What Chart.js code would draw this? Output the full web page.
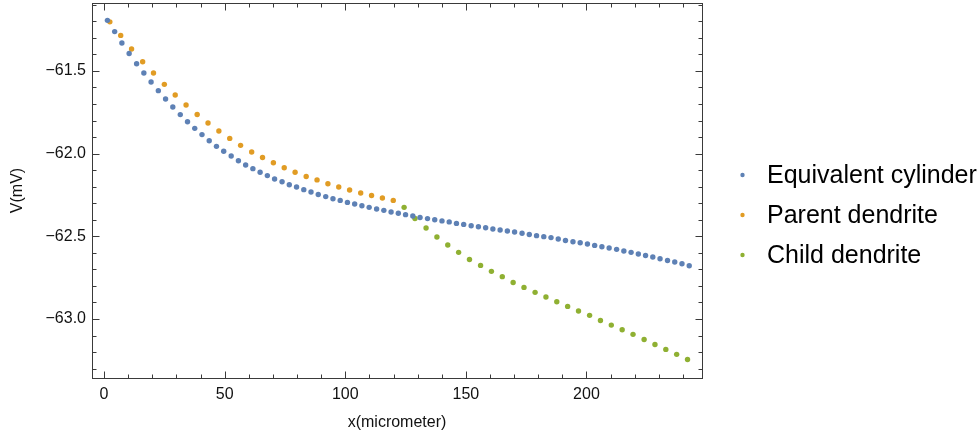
<!DOCTYPE html>
<html>
<head>
<meta charset="utf-8">
<script src="https://cdn.jsdelivr.net/npm/chart.js@4.4.1/dist/chart.umd.min.js"></script>
<style>
  html, body { margin: 0; padding: 0; background: #fff; }
  canvas { display: block; }
</style>
</head>
<body>
<canvas id="chart" width="979" height="439"></canvas>
<script>
// values
const cylinderX = [1.4, 4.4, 7.4, 10.4, 13.5, 16.5, 19.5, 22.5, 25.5, 28.5,
  31.6, 34.6, 37.6, 40.6, 43.6, 46.6, 49.6, 52.7, 55.7, 58.7,
  61.7, 64.7, 67.7, 70.7, 73.8, 76.8, 79.8, 82.8, 85.8, 88.8,
  91.9, 94.9, 97.9, 100.9, 103.9, 106.9, 109.9, 113.0, 116.0, 119.0,
  122.0, 125.0, 128.0, 131.0, 134.1, 137.1, 140.1, 143.1, 146.1, 149.1,
  152.2, 155.2, 158.2, 161.2, 164.2, 167.2, 170.2, 173.3, 176.3, 179.3,
  182.3, 185.3, 188.3, 191.3, 194.4, 197.4, 200.4, 203.4, 206.4, 209.4,
  212.5, 215.5, 218.5, 221.5, 224.5, 227.5, 230.5, 233.6, 236.6, 239.6, 242.6];
const cylinderV = [-61.194, -61.262, -61.331, -61.394, -61.456, -61.512, -61.567, -61.619, -61.670, -61.718,
  -61.764, -61.807, -61.847, -61.885, -61.922, -61.956, -61.986, -62.014, -62.043, -62.069,
  -62.091, -62.113, -62.133, -62.153, -62.170, -62.188, -62.202, -62.218, -62.232, -62.247,
  -62.260, -62.273, -62.283, -62.295, -62.305, -62.315, -62.325, -62.335, -62.343, -62.353,
  -62.361, -62.369, -62.377, -62.386, -62.393, -62.400, -62.407, -62.413, -62.422, -62.428,
  -62.436, -62.442, -62.448, -62.456, -62.462, -62.468, -62.474, -62.482, -62.489, -62.496,
  -62.502, -62.508, -62.516, -62.525, -62.533, -62.539, -62.547, -62.555, -62.563, -62.571,
  -62.579, -62.589, -62.597, -62.607, -62.616, -62.625, -62.636, -62.646, -62.655, -62.666, -62.678];

const parentX = [2.4, 6.9, 11.4, 16.0, 20.5, 25.0, 29.5, 34.0, 38.6, 43.1,
  47.6, 52.1, 56.6, 61.2, 65.7, 70.2, 74.7, 79.2, 83.8, 88.3,
  92.8, 97.3, 101.8, 106.4, 110.9, 115.4, 119.9];
const parentV = [-61.203, -61.285, -61.367, -61.444, -61.512, -61.581, -61.645, -61.706, -61.763, -61.815,
  -61.863, -61.908, -61.950, -61.990, -62.023, -62.055, -62.085, -62.113, -62.138, -62.159,
  -62.182, -62.202, -62.220, -62.238, -62.253, -62.268, -62.283];

const childX = [124.4, 128.9, 133.5, 138.0, 142.5, 147.0, 151.5, 156.1, 160.6, 165.1,
  169.6, 174.1, 178.7, 183.2, 187.7, 192.2, 196.7, 201.3, 205.8, 210.3,
  214.8, 219.3, 223.9, 228.4, 232.9, 237.4, 241.9];
const childV = [-62.325, -62.392, -62.450, -62.504, -62.553, -62.597, -62.640, -62.676, -62.712, -62.744,
  -62.779, -62.809, -62.839, -62.867, -62.896, -62.924, -62.952, -62.978, -63.009, -63.037,
  -63.065, -63.093, -63.124, -63.154, -63.184, -63.214, -63.245];

const xTickValues = [0, 50, 100, 150, 200];
const yTickValues = [-61.5, -62.0, -62.5, -63.0];
const seriesNames = ['Equivalent cylinder', 'Parent dendrite', 'Child dendrite'];
const seriesColors = ['#5e81b5', '#e19c24', '#8fb032'];

const FONT = "'Liberation Sans', Arial, sans-serif";
const FRAME = '#3a3a3a';

function points(xs, ys) {
  return xs.map((x, i) => ({ x: x, y: ys[i] }));
}

// Mathematica-like frame: ticks on all four sides, pointing inward
const framePlugin = {
  id: 'frame',
  beforeDatasetsDraw(chart) {
    const { ctx, chartArea: a, scales } = chart;
    const L = Math.round(a.left) + 0.5, R = Math.round(a.right) + 0.5;
    const T = Math.round(a.top) + 0.5, B = Math.round(a.bottom) + 0.5;
    ctx.save();
    ctx.strokeStyle = FRAME;
    ctx.lineWidth = 1;
    ctx.strokeRect(L, T, R - L, B - T);
    ctx.beginPath();
    // x: minor every 10, major every 50
    for (let v = 0; v <= 240; v += 10) {
      const px = Math.round(scales.x.getPixelForValue(v)) + 0.5;
      const len = v % 50 === 0 ? 7 : 4;
      ctx.moveTo(px, B); ctx.lineTo(px, B - len);
      ctx.moveTo(px, T); ctx.lineTo(px, T + len);
    }
    // y: minor every 0.1, major every 0.5
    for (let k = 11; k <= 33; k++) {
      const y = Math.round(scales.y.getPixelForValue(-60 - k / 10)) + 0.5;
      const len = k % 5 === 0 ? 7 : 4;
      ctx.moveTo(L, y); ctx.lineTo(L + len, y);
      ctx.moveTo(R, y); ctx.lineTo(R - len, y);
    }
    ctx.stroke();
    ctx.restore();
  }
};

const legendPlugin = {
  id: 'sideLegend',
  afterDraw(chart) {
    const { ctx } = chart;
    const rows = [175, 215, 255];
    ctx.save();
    ctx.font = '25px ' + FONT;
    ctx.textBaseline = 'middle';
    chart.data.datasets.forEach((ds, i) => {
      ctx.beginPath();
      ctx.fillStyle = ds.backgroundColor;
      ctx.arc(742.5, rows[i], 2.2, 0, Math.PI * 2);
      ctx.fill();
      ctx.fillStyle = '#000';
      ctx.fillText(ds.label, 767, rows[i] + 1);
    });
    ctx.restore();
  }
};

const datasets = [
  points(cylinderX, cylinderV),
  points(parentX, parentV),
  points(childX, childV)
].map((data, i) => ({
  label: seriesNames[i],
  data: data,
  backgroundColor: seriesColors[i],
  borderWidth: 0,
  pointRadius: 2.7,
  pointHoverRadius: 2.7
}));

new Chart(document.getElementById('chart'), {
  type: 'scatter',
  data: { datasets: datasets },
  options: {
    responsive: false,
    animation: false,
    devicePixelRatio: 1,
    layout: { padding: { top: 3, right: 277, bottom: 0, left: 0 } },
    plugins: { legend: { display: false }, tooltip: { enabled: false } },
    scales: {
      x: {
        type: 'linear',
        min: -5.0,
        max: 247.9,
        grid: { display: false, drawTicks: false },
        border: { display: false },
        afterBuildTicks: s => { s.ticks = xTickValues.map(v => ({ value: v })); },
        afterFit: s => { s.height = 61; s.paddingLeft = 0; s.paddingRight = 0; },
        ticks: {
          color: '#111',
          font: { family: FONT, size: 16 },
          padding: 7,
          maxRotation: 0,
          callback: v => String(v)
        },
        title: {
          display: true,
          text: 'x(micrometer)',
          color: '#111',
          font: { family: FONT, size: 16 },
          padding: { top: 0, bottom: 7 }
        }
      },
      y: {
        type: 'linear',
        min: -63.357,
        max: -61.089,
        grid: { display: false, drawTicks: false },
        border: { display: false },
        afterBuildTicks: s => { s.ticks = yTickValues.map(v => ({ value: v })); },
        afterFit: s => { s.width = 92; s.paddingTop = 0; s.paddingBottom = 0; },
        ticks: {
          color: '#111',
          font: { family: FONT, size: 16 },
          padding: 6,
          callback: v => v.toFixed(1).replace('-', '\u2212')
        },
        title: {
          display: true,
          text: 'V(mV)',
          color: '#111',
          font: { family: FONT, size: 16 },
          padding: { top: 8, bottom: 0 }
        }
      }
    }
  },
  plugins: [framePlugin, legendPlugin]
});
</script>
</body>
</html>
